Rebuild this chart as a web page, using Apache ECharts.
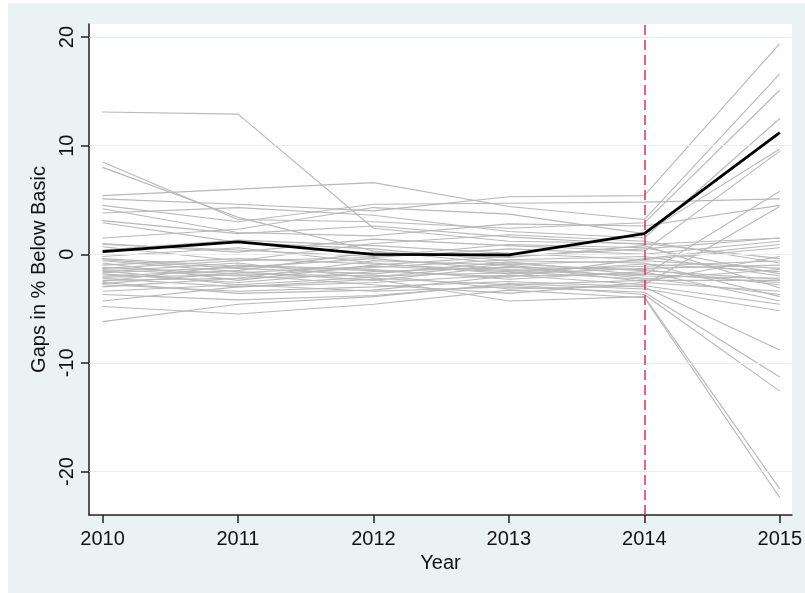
<!DOCTYPE html>
<html>
<head>
<meta charset="utf-8">
<script src="https://cdn.jsdelivr.net/npm/echarts@6/dist/echarts.min.js"></script>
<style>
  html, body { margin: 0; padding: 0; background: #ffffff; width: 805px; height: 593px; overflow: hidden; }
  #chart { position: absolute; left: 8px; top: 3px; width: 797px; height: 590px; background: #eaf2f3; }
</style>
</head>
<body>
<div id="chart"></div>
<script>
// ---- data ----
const years = [2010, 2011, 2012, 2013, 2014, 2015];
const yTicks = [-20, -10, 0, 10, 20];
const treatYear = 2014;

// average gap (black line)
const meanGap = [0.25, 1.15, 0.0, -0.05, 1.9, 11.2];

// individual gap lines (grey), grouped by where they end in 2015
const risingLines = [
  [5.1, 4.6, 4.0, 5.3, 5.4, 19.4],
  [5.4, 6.0, 6.6, 4.4, 3.2, 16.6],
  [8.5, 3.2, 3.0, 2.4, 2.9, 15.1],
  [3.8, 4.3, 3.6, 2.1, 1.5, 12.5],
  [1.5, 2.3, 4.3, 3.7, 1.9, 9.7],
  [1.0, 0.2, 1.4, 0.8, 0.3, 9.5],
  [-0.5, -1.3, -1.8, -0.7, -1.9, 5.8],
  [4.5, 3.0, 4.6, 4.7, 4.8, 5.1],
  [4.2, 2.0, 1.7, 2.8, 2.6, 4.5],
  [-2.2, -3.0, -2.6, -1.9, -2.8, 4.4]
];
const fallingLines = [
  [-2.8, -3.4, -3.0, -2.5, -3.0, -8.8],
  [-3.4, -2.8, -3.4, -3.0, -3.5, -11.3],
  [-3.7, -4.2, -3.8, -2.8, -3.7, -12.6],
  [-4.3, -3.0, -2.3, -4.3, -3.9, -21.6],
  [-4.8, -5.5, -4.6, -3.3, -4.0, -22.4]
];
const middleLines = [
  [13.1, 12.9, 2.4, 1.2, 1.0, -0.4],
  [8.0, 3.4, 0.3, -0.9, -0.6, -1.3],
  [3.1, 1.9, 2.6, 1.6, 0.9, 1.5],
  [2.9, 1.1, 0.5, -0.6, -0.8, -3.9],
  [0.7, -0.6, -0.3, 0.5, 0.0, 1.2],
  [0.4, 1.3, 0.8, 0.1, -0.5, 0.6],
  [-0.2, 0.6, -0.8, -1.8, -1.3, -1.0],
  [-0.6, -1.6, -2.4, -1.1, -2.5, -0.2],
  [-0.8, -2.4, -1.0, -0.2, 0.5, 1.5],
  [-1.0, -0.4, -0.9, -1.5, -1.1, -0.6],
  [-1.2, -1.8, -2.0, -1.7, -0.9, -1.6],
  [-1.3, -0.6, 1.0, 1.8, 1.2, -0.8],
  [-1.4, -2.0, -1.2, -0.5, -0.2, -2.0],
  [-1.6, -0.8, -2.2, -2.8, -2.4, -2.4],
  [-1.7, -1.2, -0.4, -1.4, -2.0, -2.2],
  [-1.8, -2.6, -1.6, -1.2, -1.4, -2.8],
  [-2.0, -1.5, 0.2, -0.3, 0.8, -3.1],
  [-2.1, -1.9, -2.8, -3.6, -2.6, -3.4],
  [-2.4, -2.2, -0.6, -1.0, -2.2, -3.7],
  [-2.5, -1.0, -1.4, -2.3, -1.6, -4.3],
  [-2.6, -3.6, -3.3, -2.0, -1.8, -2.6],
  [-3.0, -2.2, -1.9, -3.2, -2.9, -4.6],
  [-6.2, -4.6, -3.9, -2.7, -3.2, -5.2],
  [0.9, 0.4, -0.2, 0.9, 0.6, -1.8],
  [-0.4, -1.1, -1.5, -2.1, -0.4, 0.9],
  [-1.5, -2.8, -2.1, -0.9, -1.5, -2.3],
  [-2.7, -1.7, -1.1, -1.6, -2.3, -1.4]
];

// ---- chart ----
const chart = echarts.init(document.getElementById('chart'), null, { renderer: 'canvas' });
const FONT = 'Liberation Sans, Arial, sans-serif';
const toPts = row => years.map((y, i) => [y, row[i]]);

const greyRows = [].concat(middleLines, risingLines, fallingLines);
const series = greyRows.map(row => ({
  type: 'line',
  data: toPts(row),
  symbol: 'none',
  silent: true,
  lineStyle: { color: '#b8b8b8', width: 1.1 },
  z: 2
}));

// grid lines
series.unshift({
  type: 'line',
  data: [],
  silent: true,
  z: 1,
  markLine: {
    silent: true,
    symbol: 'none',
    label: { show: false },
    lineStyle: { color: '#e6eef0', width: 1, type: 'solid' },
    data: yTicks.map(v => ({ yAxis: v }))
  }
});

// mean line + treatment marker
series.push({
  type: 'line',
  data: toPts(meanGap),
  symbol: 'none',
  silent: true,
  lineStyle: { color: '#000000', width: 2.8 },
  z: 5,
  markLine: {
    silent: true,
    symbol: 'none',
    label: { show: false },
    lineStyle: { color: '#d9406b', width: 1.6, type: [10, 5] },
    data: [{ xAxis: treatYear }]
  }
});

chart.setOption({
  animation: false,
  backgroundColor: 'transparent',
  grid: {
    left: 81, top: 21, right: 8, bottom: 78,
    show: true, backgroundColor: '#ffffff', borderWidth: 0
  },
  xAxis: {
    type: 'value',
    min: 2009.9, max: 2015.09,
    name: 'Year',
    nameLocation: 'middle',
    nameGap: 36,
    nameTextStyle: { fontFamily: FONT, fontSize: 20, color: '#111' },
    axisLine: { show: true, onZero: false, lineStyle: { color: '#222', width: 1.5 } },
    axisTick: { show: true, length: 8, customValues: years, lineStyle: { color: '#222', width: 1.5 } },
    axisLabel: { customValues: years, fontFamily: FONT, fontSize: 20, color: '#111', margin: 14, formatter: v => String(v) },
    splitLine: { show: false }
  },
  yAxis: {
    type: 'value',
    min: -24, max: 21.2,
    name: 'Gaps in % Below Basic',
    nameLocation: 'middle',
    nameGap: 38,
    nameRotate: 90,
    nameTextStyle: { fontFamily: FONT, fontSize: 20, color: '#111' },
    axisLine: { show: true, onZero: false, lineStyle: { color: '#222', width: 1.5 } },
    axisTick: { show: true, length: 8, customValues: yTicks, lineStyle: { color: '#222', width: 1.5 } },
    axisLabel: { customValues: yTicks, rotate: 90, fontFamily: FONT, fontSize: 20, color: '#111', margin: 12 },
    splitLine: { show: false }
  },
  series: series
});
</script>
</body>
</html>
